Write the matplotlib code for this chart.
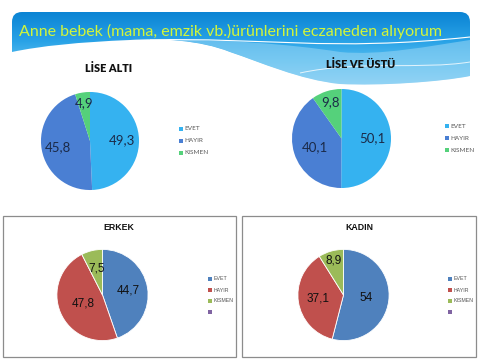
import numpy as np
import matplotlib
matplotlib.use('Agg')
import matplotlib.pyplot as plt
from matplotlib.patches import Rectangle, PathPatch
from matplotlib.path import Path
from matplotlib.colors import LinearSegmentedColormap

# ---------------- data ----------------
title = "Anne bebek (mama, emzik vb.)ürünlerini eczaneden alıyorum"
categories = ["EVET", "HAYIR", "KISMEN"]
bottom_legend = ["EVET", "HAYIR", "KISMEN", ""]
chart_titles = ["LİSE ALTI", "LİSE VE ÜSTÜ", "ERKEK", "KADIN"]
lise_alti = [49.3, 45.8, 4.9]
lise_ustu = [50.1, 40.1, 9.8]
erkek = [44.7, 47.8, 7.5]
kadin = [54, 37.1, 8.9]

# ---------------- styles ----------------
top_colors = ["#35b2f0", "#4a7fd3", "#55d17b"]
bot_colors = ["#4f81bd", "#c0504d", "#9bbb59", "#8064a2"]
TOPFONT = ["Lato", "DejaVu Sans"]
BOTFONT = ["Liberation Sans", "DejaVu Sans"]

W, H = 480, 360
fig = plt.figure(figsize=(4.8, 3.6), dpi=100)
fig.patch.set_facecolor("white")
bg = fig.add_axes([0, 0, 1, 1])
bg.set_xlim(0, W)
bg.set_ylim(H, 0)
bg.axis("off")


def fmt(v):
    return f"{v:g}".replace(".", ",")


# ---------------- header banner ----------------
verts = [(12, 22), (12, 12), (22, 12), (460, 12), (470, 12), (470, 22),
         (470, 76),
         (440, 82), (380, 86), (340, 84),
         (300, 80), (260, 62), (230, 52),
         (200, 40), (160, 38), (130, 40),
         (80, 42), (40, 46), (12, 52),
         (12, 22)]
codes = [Path.MOVETO, Path.CURVE3, Path.CURVE3, Path.LINETO, Path.CURVE3, Path.CURVE3,
         Path.LINETO,
         Path.CURVE4, Path.CURVE4, Path.CURVE4,
         Path.CURVE4, Path.CURVE4, Path.CURVE4,
         Path.CURVE4, Path.CURVE4, Path.CURVE4,
         Path.CURVE4, Path.CURVE4, Path.CURVE4,
         Path.CLOSEPOLY]
hdr = PathPatch(Path(verts, codes), facecolor="none", edgecolor="none")
bg.add_patch(hdr)
grad = np.linspace(0, 1, 200)[:, None]
cm = LinearSegmentedColormap.from_list(
    "hdr", [(0, "#0b84d4"), (0.38, "#2aa3e7"), (0.62, "#55bcef"), (1, "#a4daf6")])
im = bg.imshow(grad, cmap=cm, extent=[12, 470, 90, 12], aspect="auto", zorder=1)
im.set_clip_path(hdr)

# lighter wave band
bverts = [(160, 40), (220, 39), (290, 44), (340, 52),
          (380, 56), (430, 46), (470, 40),
          (470, 76),
          (440, 82), (380, 86), (340, 84),
          (300, 80), (260, 62), (230, 52),
          (210, 44), (185, 40), (160, 40)]
bcodes = [Path.MOVETO, Path.CURVE4, Path.CURVE4, Path.CURVE4,
          Path.CURVE4, Path.CURVE4, Path.CURVE4,
          Path.LINETO,
          Path.CURVE4, Path.CURVE4, Path.CURVE4,
          Path.CURVE4, Path.CURVE4, Path.CURVE4,
          Path.CURVE4, Path.CURVE4, Path.CURVE4]
band = PathPatch(Path(bverts, bcodes), facecolor="#8fd2f4", edgecolor="none", alpha=0.6, zorder=2)
band.set_clip_path(hdr)
bg.add_patch(band)
# thin white lines
l1 = Path([(150, 40), (260, 37), (330, 52), (470, 37)],
          [Path.MOVETO, Path.CURVE4, Path.CURVE4, Path.CURVE4])
bg.add_patch(PathPatch(l1, facecolor="none", edgecolor="white", lw=0.8, zorder=3))
l2 = Path([(300, 73), (360, 60), (420, 70), (470, 62)],
          [Path.MOVETO, Path.CURVE4, Path.CURVE4, Path.CURVE4])
bg.add_patch(PathPatch(l2, facecolor="none", edgecolor="white", lw=0.7, alpha=0.8, zorder=3))

bg.text(19, 31, title, color="#d2f53a", fontsize=11.55, family=TOPFONT,
        ha="left", va="center", zorder=4)

# ---------------- bottom boxes ----------------
for x0, x1 in [(3, 236), (242, 476)]:
    bg.add_patch(Rectangle((x0, 216), x1 - x0, 141, facecolor="white",
                           edgecolor="#8c8c8c", lw=0.9, zorder=1))


# ---------------- pies ----------------
def draw_pie(cx, cy, r, vals, colors, dists, fs, family, tcolor, edge, lw):
    ax = fig.add_axes([(cx - r) / W, 1 - (cy + r) / H, 2 * r / W, 2 * r / H])
    wedges, _ = ax.pie(vals, colors=colors, startangle=90, counterclock=False,
                       radius=1, wedgeprops=dict(edgecolor=edge, linewidth=lw))
    ax.set_xlim(-1.02, 1.02)
    ax.set_ylim(-1.02, 1.02)
    ax.set_aspect("equal")
    ax.axis("off")
    for w, v, d in zip(wedges, vals, dists):
        a = np.deg2rad((w.theta1 + w.theta2) / 2)
        ax.text(d * np.cos(a), d * np.sin(a), fmt(v), ha="center", va="center",
                fontsize=fs, family=family, color=tcolor)
    return ax


draw_pie(90, 141, 50, lise_alti, top_colors, [0.66, 0.67, 0.79], 9.5, TOPFONT, "#1b2a48", "none", 0)
draw_pie(341.5, 138.5, 50.5, lise_ustu, top_colors, [0.63, 0.57, 0.76], 9.5, TOPFONT, "#1b2a48", "none", 0)
draw_pie(102.5, 295, 46.5, erkek, bot_colors[:3], [0.57, 0.47, 0.6], 8.5, BOTFONT, "#111111", "white", 0.6)
draw_pie(343.5, 295, 46.5, kadin, bot_colors[:3], [0.5, 0.56, 0.79], 8.5, BOTFONT, "#111111", "white", 0.6)

# titles
bg.text(109, 69, chart_titles[0], fontsize=7.8, weight="heavy", family=TOPFONT,
        ha="center", va="center", color="#111111", zorder=5)
bg.text(360.5, 65, chart_titles[1], fontsize=7.8, weight="heavy", family=TOPFONT,
        ha="center", va="center", color="#111111", zorder=5)
bg.text(119, 228, chart_titles[2], fontsize=6.3, weight="bold", family=BOTFONT,
        ha="center", va="center", color="#111111", zorder=5)
bg.text(359.5, 228, chart_titles[3], fontsize=6.3, weight="bold", family=BOTFONT,
        ha="center", va="center", color="#111111", zorder=5)


# legends
def legend(x, ys, labels, colors, fs, family, sq):
    for y, lab, c in zip(ys, labels, colors):
        bg.add_patch(Rectangle((x - sq / 2, y - sq / 2), sq, sq, facecolor=c,
                               edgecolor="none", zorder=5))
        bg.text(x + sq / 2 + 1.5, y, lab, fontsize=fs, family=family,
                ha="left", va="center", color="#555555", zorder=5)


legend(181, [129, 141, 153], categories, top_colors, 4.6, TOPFONT, 3.6)
legend(447, [126, 138, 150], categories, top_colors, 4.6, TOPFONT, 3.6)
legend(210, [279, 290, 301, 312], bottom_legend, bot_colors, 3.8, BOTFONT, 3.4)
legend(450, [279, 290, 301, 312], bottom_legend, bot_colors, 3.8, BOTFONT, 3.4)

fig.savefig("out.png", dpi=100, facecolor="white")
